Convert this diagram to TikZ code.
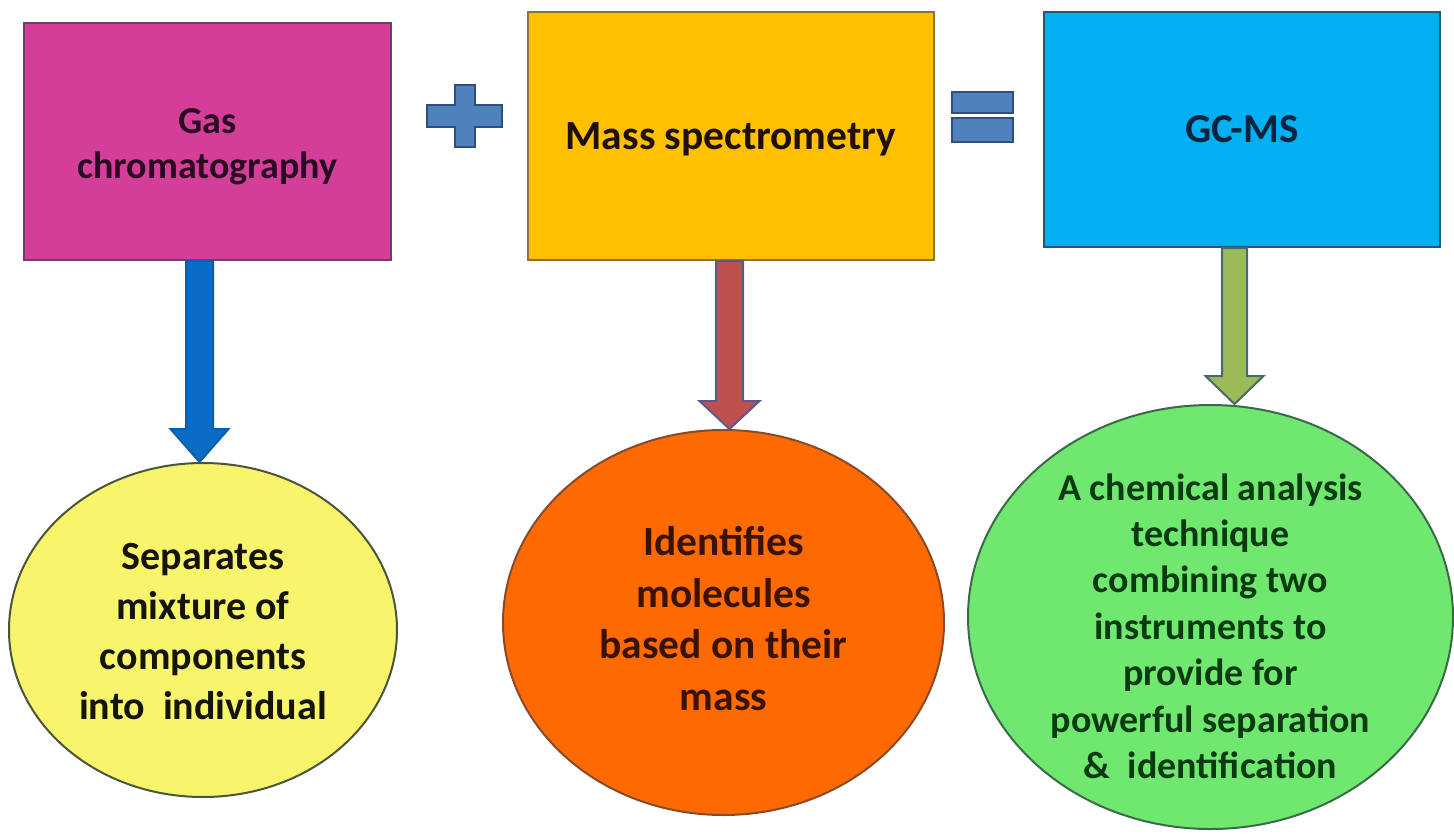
\documentclass[tikz,border=0pt]{standalone}
\usepackage{fontspec}
\setmainfont{Carlito}
\usetikzlibrary{shapes.geometric,calc}

\definecolor{gcfill}{HTML}{D23E98}
\definecolor{gcline}{HTML}{6A3F6C}
\definecolor{gctext}{HTML}{2A0A22}
\definecolor{msfill}{HTML}{FFC000}
\definecolor{msline}{HTML}{8C7434}
\definecolor{mstext}{HTML}{1E1008}
\definecolor{gcmsfill}{HTML}{00B0F0}
\definecolor{gcmsline}{HTML}{1F5A7A}
\definecolor{gcmstext}{HTML}{0A2440}
\definecolor{sepfill}{HTML}{F8F46C}
\definecolor{sepline}{HTML}{4A553A}
\definecolor{septext}{HTML}{141408}
\definecolor{idfill}{HTML}{FF6A00}
\definecolor{idline}{HTML}{8A4A28}
\definecolor{idtext}{HTML}{3A1200}
\definecolor{techfill}{HTML}{70E870}
\definecolor{techline}{HTML}{3A6A4A}
\definecolor{techtext}{HTML}{0A3A12}
\definecolor{opfill}{HTML}{4F81BD}
\definecolor{opline}{HTML}{2F507F}
\definecolor{bluearr}{HTML}{0A6CC4}
\definecolor{bluearrline}{HTML}{0A5FA8}
\definecolor{redarr}{HTML}{C0504D}
\definecolor{redarrline}{HTML}{5A5A8A}
\definecolor{greenarr}{HTML}{9BBB59}
\definecolor{greenarrline}{HTML}{4A6A6A}

\tikzset{
  topbox/.style={draw, line width=2pt, rectangle, inner sep=0pt},
  bubble/.style={draw, line width=2pt, ellipse, inner sep=0pt},
  caption/.style={align=center, inner sep=0pt},
  opsign/.style={fill=opfill, draw=opline, line width=1.5pt},
  blockarr/.style={line width=2pt, line join=miter},
}
\newcommand{\capfont}[2]{\fontsize{#1}{#2}\selectfont\bfseries}

% block arrow: #1 start, #2 target node, #3 shaft half-width,
% #4 head half-width, #5 head length, #6 style
\newcommand{\blockarrow}[6]{%
  \draw[blockarr,#6]
    ($(#1)+(-#3,0)$) -- ($(#1 |- #2.north)+(-#3,-#5)$)
    -- ($(#1 |- #2.north)+(-#4,-#5)$) -- (#1 |- #2.north)
    -- ($(#1 |- #2.north)+(#4,-#5)$) -- ($(#1 |- #2.north)+(#3,-#5)$)
    -- ($(#1)+(#3,0)$) -- cycle;}

\begin{document}
\begin{tikzpicture}[x=1pt,y=-1pt]
  \useasboundingbox[fill=white] (0,0) rectangle (1454,833);

  % upper row
  \node[topbox, fill=gcfill, draw=gcline,
        minimum width=367, minimum height=237,
        label={[caption, text=gctext, font=\capfont{38}{45}, yshift=-5pt]center:{Gas\\chromatography}}]
        (gc) at (207.5,141.5) {};
  \node[topbox, fill=msfill, draw=msline,
        minimum width=406, minimum height=248,
        label={[caption, text=mstext, font=\capfont{41.5}{50}, yshift=-3pt]center:{Mass spectrometry}}]
        (ms) at (731,136) {};
  \node[topbox, fill=gcmsfill, draw=gcmsline,
        minimum width=396, minimum height=235,
        label={[caption, text=gcmstext, font=\capfont{41}{50}, yshift=0pt]center:{GC-MS}}]
        (gcms) at (1242,129.5) {};

  % plus and equals signs
  \path[opsign] (427,105) -- (455,105) -- (455,85) -- (475,85) -- (475,105)
    -- (502,105) -- (502,127) -- (475,127) -- (475,147) -- (455,147)
    -- (455,127) -- (427,127) -- cycle;
  \path[opsign] (952,92) rectangle (1013,113);
  \path[opsign] (952,118) rectangle (1013,142);

  % lower row
  \node[bubble, fill=sepfill, draw=sepline,
        minimum width=388, minimum height=334,
        label={[caption, text=septext, font=\capfont{40}{50}, yshift=-2pt]center:{Separates\\mixture of\\components\\into\hspace{0.45em}individual}}]
        (sep) at (203,630) {};
  \node[bubble, fill=idfill, draw=idline,
        minimum width=441, minimum height=385,
        label={[caption, text=idtext, font=\capfont{41.5}{51.7}, yshift=4pt]center:{Identifies\\molecules\\based on their\\mass}}]
        (ident) at (723.5,622.5) {};
  \node[bubble, fill=techfill, draw=techline,
        minimum width=485, minimum height=424,
        label={[caption, text=techtext, font=\capfont{38}{46.4}, yshift=-9pt]center:{A chemical analysis\\technique\\combining two\\instruments to\\provide for\\powerful separation\\\&\ \ identification}}]
        (tech) at (1210.5,617) {};

  % arrows from each method to what it does
  \coordinate (a1) at ($(gc.south)+(-8,0)$);
  \coordinate (a2) at ($(ms.south)+(-1.5,0)$);
  \coordinate (a3) at ($(gcms.south)+(-7.5,0)$);
  \blockarrow{a1}{sep}{13.5}{29}{33}{fill=bluearr, draw=bluearrline}
  \blockarrow{a2}{ident}{13.5}{30}{28}{fill=redarr, draw=redarrline}
  \blockarrow{a3}{tech}{12.5}{29}{28}{fill=greenarr, draw=greenarrline}
\end{tikzpicture}
\end{document}
